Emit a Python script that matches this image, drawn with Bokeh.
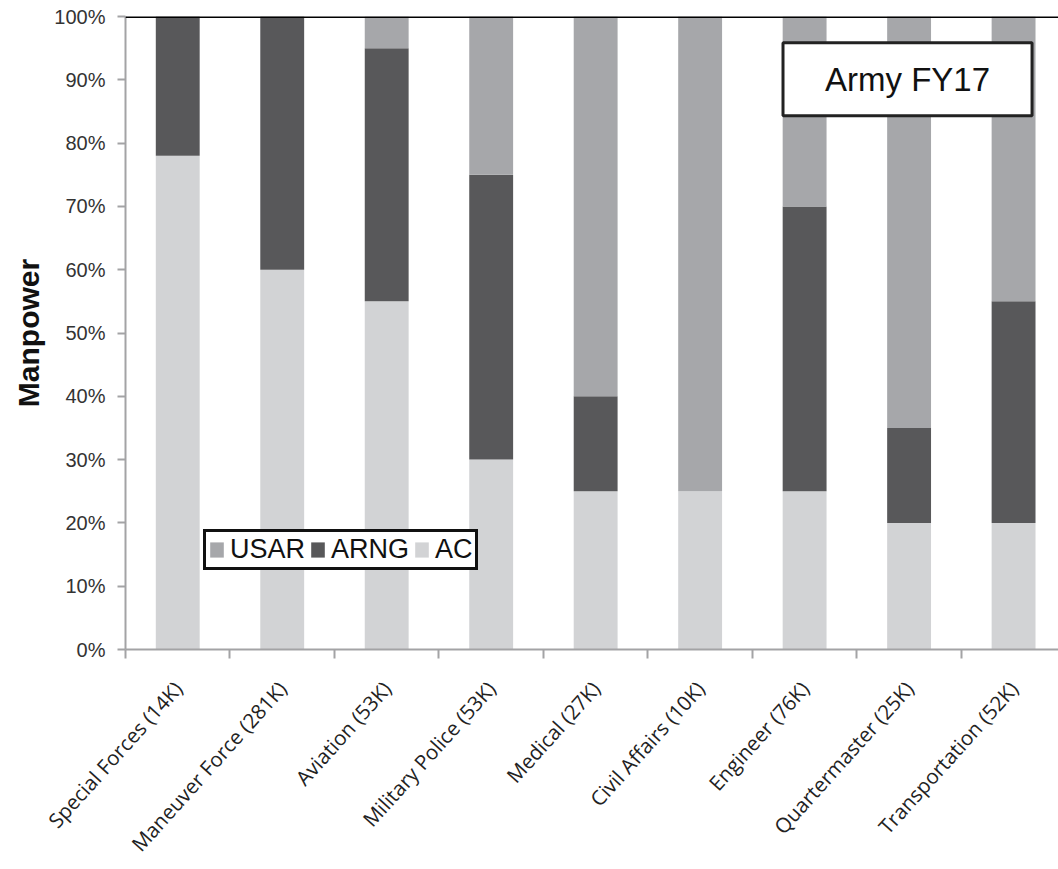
import math
from bokeh.plotting import figure
from bokeh.models import (Range1d, FixedTicker, Legend, LegendItem, Label, Span,
                          PrintfTickFormatter, ColumnDataSource)
from bokeh.embed import file_html
from bokeh.resources import INLINE

categories = ["Special Forces (14K)", "Maneuver Force (281K)", "Aviation (53K)",
              "Military Police (53K)", "Medical (27K)", "Civil Affairs (10K)",
              "Engineer (76K)", "Quartermaster (25K)", "Transportation (52K)"]
ac = [78, 60, 55, 30, 25, 25, 25, 20, 20]
arng = [22, 40, 40, 45, 15, 0, 45, 15, 35]
usar = [0, 0, 5, 25, 60, 75, 30, 65, 45]
y_ticks = list(range(0, 101, 10))

C_AC = "#d2d3d5"
C_ARNG = "#58585a"
C_USAR = "#a6a7aa"
AXIS_C = "#a3a3a5"

xs = [i + 0.5 for i in range(len(categories))]
bounds = list(range(len(categories) + 1))

src = ColumnDataSource(dict(x=xs, AC=ac, ARNG=arng, USAR=usar))

p = figure(width=1058, height=869, x_range=Range1d(0, 8.93), y_range=Range1d(0, 100),
           output_backend="svg", toolbar_location=None,
           min_border_left=125, min_border_right=0, min_border_top=16, min_border_bottom=218)
p.outline_line_color = None
p.grid.grid_line_color = None

rs = p.vbar_stack(["AC", "ARNG", "USAR"], x="x", width=0.42, source=src,
                  color=[C_AC, C_ARNG, C_USAR], line_color=None)

# axes
xa = p.xaxis[0]
xa.ticker = FixedTicker(ticks=xs, minor_ticks=bounds)
xa.major_label_overrides = {x: c for x, c in zip(xs, categories)}
xa.major_tick_line_color = None
xa.minor_tick_line_color = AXIS_C
xa.minor_tick_line_width = 2
xa.minor_tick_out = 9
xa.minor_tick_in = 0
xa.axis_line_color = AXIS_C
xa.axis_line_width = 2
xa.major_label_orientation = math.radians(48)
xa.major_label_text_font = "Open Sans"
xa.major_label_text_font_size = "20.5px"
xa.major_label_text_color = "#222222"
xa.major_label_standoff = 26

ya = p.yaxis[0]
ya.ticker = FixedTicker(ticks=y_ticks, minor_ticks=[])
ya.formatter = PrintfTickFormatter(format="%d%%")
ya.major_tick_line_color = AXIS_C
ya.major_tick_line_width = 2
ya.major_tick_out = 8
ya.major_tick_in = 0
ya.axis_line_color = AXIS_C
ya.axis_line_width = 2
ya.major_label_text_font = "Liberation Sans"
ya.major_label_text_font_size = "20px"
ya.major_label_text_color = "#333333"
ya.major_label_standoff = 12
ya.axis_label = "Manpower"
ya.axis_label_text_font = "Liberation Sans"
ya.axis_label_text_font_style = "bold"
ya.axis_label_text_font_size = "30px"
ya.axis_label_text_color = "#111111"
ya.axis_label_standoff = 6

p.add_layout(Span(location=100, dimension="width", line_color="#000000",
                  line_width=3, line_alpha=1.0, level="overlay"))

legend = Legend(items=[LegendItem(label="USAR", renderers=[rs[2]]),
                       LegendItem(label="ARNG", renderers=[rs[1]]),
                       LegendItem(label="AC", renderers=[rs[0]])],
                orientation="horizontal", location=(78, 79), margin=0,
                glyph_width=17, glyph_height=19, label_standoff=5, spacing=4,
                padding=2, label_text_font="Liberation Sans", label_text_font_size="27px",
                label_text_color="#111111", border_line_color="#111111",
                border_line_width=3, border_line_alpha=1.0,
                background_fill_color="white", background_fill_alpha=1.0)
p.add_layout(legend)

title = Label(x=7.485, y=90.1, text="Army FY17", text_align="center", text_baseline="middle",
              text_font="Liberation Sans", text_font_size="33px", text_color="#111111",
              border_line_color="#222222", border_line_width=3,
              background_fill_color="white", background_fill_alpha=1.0,
              padding=dict(left=42, right=42, top=18, bottom=18))
p.add_layout(title)

open("out.html", "w").write(file_html(p, INLINE))
